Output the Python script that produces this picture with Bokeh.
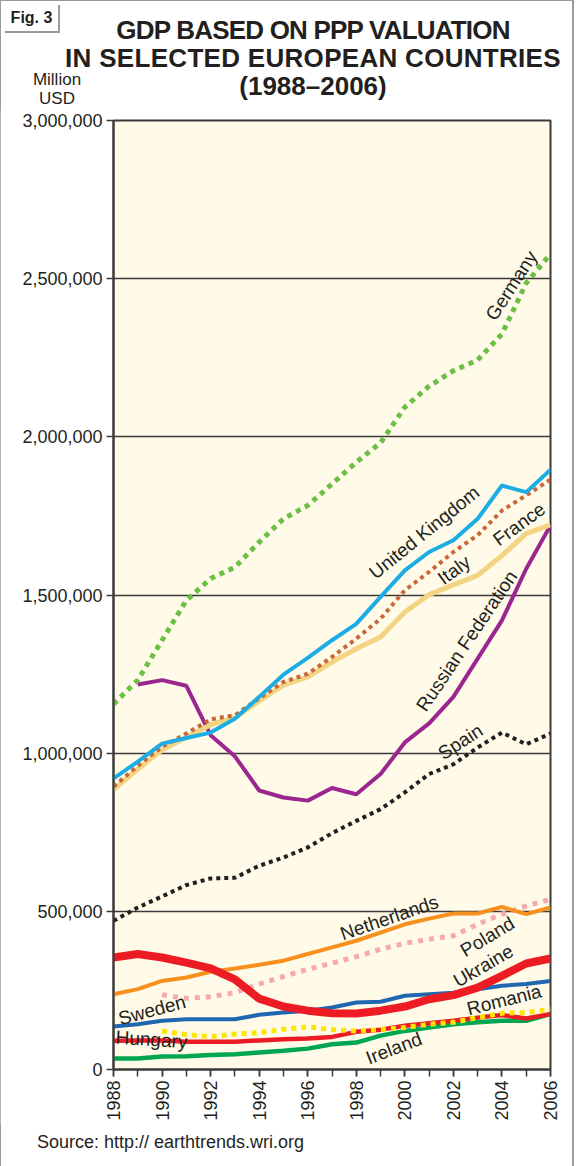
import math
from bokeh.plotting import figure
from bokeh.layouts import column
from bokeh.models import Range1d, FixedTicker, NumeralTickFormatter, Label, Div
from bokeh.embed import file_html
from bokeh.resources import INLINE

years = list(range(1988, 2007))
years_from_1989 = years[1:]
years_from_1990 = years[2:]

germany = [1155000, 1231000, 1357000, 1483000, 1552000, 1588000, 1667000, 1741000, 1783000, 1851000,
           1920000, 1981000, 2094000, 2160000, 2209000, 2243000, 2325000, 2486000, 2578000]
uk = [920000, 973000, 1030000, 1048000, 1065000, 1109000, 1178000, 1248000, 1301000, 1357000,
      1409000, 1494000, 1578000, 1636000, 1673000, 1741000, 1846000, 1825000, 1896000]
france = [894000, 960000, 1020000, 1062000, 1107000, 1120000, 1173000, 1225000, 1251000, 1304000,
          1362000, 1425000, 1515000, 1573000, 1636000, 1689000, 1767000, 1815000, 1865000]
italy = [885000, 950000, 1010000, 1050000, 1090000, 1112000, 1165000, 1215000, 1241000, 1288000,
         1330000, 1367000, 1446000, 1501000, 1532000, 1562000, 1625000, 1694000, 1722000]
russia = [1217000, 1231000, 1213000, 1057000, 990000, 882000, 860000, 850000, 890000,
          870000, 934000, 1034000, 1094000, 1178000, 1299000, 1420000, 1583000, 1720000]
spain = [470000, 512000, 547000, 583000, 604000, 606000, 644000, 670000, 702000, 747000,
         786000, 823000, 876000, 934000, 965000, 1018000, 1065000, 1028000, 1062000]
netherlands = [238000, 254000, 280000, 291000, 309000, 319000, 331000, 344000, 365000, 386000,
               407000, 433000, 459000, 477000, 493000, 493000, 514000, 491000, 512000]
poland = [236000, 225000, 230000, 243000, 270000, 294000, 317000, 336000,
          357000, 380000, 399000, 412000, 423000, 459000, 491000, 517000, 538000]
ukraine = [354000, 365000, 354000, 338000, 320000, 285000, 224000, 199000, 186000, 178000,
           177000, 186000, 199000, 222000, 235000, 259000, 296000, 335000, 351000]
sweden = [136000, 143000, 154000, 159000, 159000, 159000, 173000, 180000, 186000, 196000,
          212000, 214000, 233000, 238000, 243000, 254000, 265000, 270000, 280000]
romania = [122000, 110000, 104000, 112000, 117000, 127000, 135000, 126000,
           122000, 126000, 133000, 143000, 149000, 164000, 178000, 180000, 191000]
hungary = [91000, 92000, 92000, 88000, 88000, 88000, 92000, 96000, 98000, 103000,
           119000, 126000, 138000, 146000, 154000, 164000, 172000, 161000, 175000]
ireland = [35000, 35000, 41000, 42000, 46000, 48000, 54000, 59000, 66000, 80000,
           85000, 107000, 122000, 133000, 143000, 149000, 154000, 154000, 175000]

y_ticks = [0, 500000, 1000000, 1500000, 2000000, 2500000, 3000000]
x_label_years = list(range(1988, 2007, 2))

title_lines = ["GDP BASED ON PPP VALUATION", "IN SELECTED EUROPEAN COUNTRIES", "(1988\u20132006)"]
unit_lines = ["Million", "USD"]
fig_tag = "Fig. 3"
source_text = "Source: http:// earthtrends.wri.org"

FONT = "Liberation Sans"
CSS_FONT = "'Liberation Sans', Arial, sans-serif"
TXT = "#231f20"
W = 563
HEAD_H = 100
FOOT_H = 36
MAIN_H = 1150 - HEAD_H - FOOT_H

# ---------- header (title block) as HTML ----------
spacings = ["-0.8px", "0.3px", "0px"]
title_html = "".join(
    f'<div style="letter-spacing:{ls};">{t}</div>' for t, ls in zip(title_lines, spacings)
)
head_html = (
    f'<div style="position:relative;width:{W}px;height:{HEAD_H}px;font-family:{CSS_FONT};color:{TXT};">'
    f'<div style="position:absolute;left:0;top:0;width:55px;height:28px;box-sizing:border-box;'
    f'border:2px solid #9b9b9b;border-top:none;border-left:none;font-weight:bold;font-size:16px;'
    f'line-height:26px;text-align:center;">{fig_tag}</div>'
    f'<div style="position:absolute;left:0;right:0;top:11px;padding-left:53px;box-sizing:border-box;'
    f'text-align:center;font-weight:bold;font-size:26px;line-height:28px;white-space:nowrap;">'
    + title_html +
    '</div>'
    f'<div style="position:absolute;left:0;top:65px;width:104px;text-align:center;'
    f'font-size:17px;line-height:19px;">' + "<br>".join(unit_lines) + '</div>'
    '</div>'
)
head = Div(text=head_html, width=W, height=HEAD_H, styles={"overflow": "visible"})

# ---------- main chart ----------
p = figure(width=W, height=MAIN_H, output_backend="svg", toolbar_location=None,
           x_range=Range1d(1988, 2006), y_range=Range1d(0, 3000000),
           min_border_left=113, min_border_right=13, min_border_top=10, min_border_bottom=55)
p.background_fill_color = "#fffbe8"
p.border_fill_color = "white"
p.outline_line_color = "#3a3a3a"
p.outline_line_width = 2

p.xgrid.grid_line_color = None
p.ygrid.ticker = FixedTicker(ticks=y_ticks)
p.ygrid.grid_line_color = "#3a3a3a"
p.ygrid.grid_line_width = 1.6

p.yaxis.ticker = FixedTicker(ticks=y_ticks)
p.yaxis.formatter = NumeralTickFormatter(format="0,0")
p.xaxis.ticker = FixedTicker(ticks=x_label_years, minor_ticks=years)
p.xaxis.major_label_orientation = math.pi / 2
for ax in (p.xaxis[0], p.yaxis[0]):
    ax.axis_line_color = "#3a3a3a"
    ax.axis_line_width = 2
    ax.major_tick_line_color = "#3a3a3a"
    ax.major_tick_line_width = 1.5
    ax.minor_tick_line_color = "#3a3a3a"
    ax.minor_tick_line_width = 1.5
    ax.major_tick_in = 0
    ax.major_tick_out = 7
    ax.minor_tick_in = 0
    ax.minor_tick_out = 7
    ax.major_label_text_font = FONT
    ax.major_label_text_font_size = "18px"
    ax.major_label_text_color = TXT
    ax.major_label_standoff = 4
p.yaxis.minor_tick_line_color = None

def line(xs, ys, color, width, dash="solid"):
    p.line(xs, ys, line_color=color, line_width=width, line_dash=dash, line_cap="butt")

line(years, ireland, "#00a651", 4.5)
line(years, hungary, "#ed1c24", 4.5)
line(years_from_1990, romania, "#ffe600", 5, "5 5")
line(years, sweden, "#1f67b1", 4)
line(years_from_1990, poland, "#f6a9b1", 5, "5 6")
line(years, netherlands, "#f7901e", 4)
line(years, ukraine, "#ed1c24", 8)
line(years, spain, "#231f20", 4, "4 4")
line(years_from_1989, russia, "#9b2690", 4)
line(years, italy, "#f3d482", 5)
line(years, france, "#c9673a", 4, "4 4")
line(years, uk, "#1cade4", 4)
line(years, germany, "#6dbe45", 5, "5 5")

def label(text, x, y, angle=0, size="19px"):
    p.add_layout(Label(x=x, y=y, text=text, angle=angle, angle_units="deg",
                       text_font=FONT, text_font_size=size, text_color=TXT,
                       text_align="center", text_baseline="middle"))

label("Germany", 2004.39, 2478000, 57)
label("United Kingdom", 2000.80, 1698000, 39)
label("France", 2004.71, 1724000, 36)
label("Italy", 2002.03, 1579000, 36)
label("Russian Federation", 2002.55, 1355000, 56)
label("Spain", 2002.29, 1036000, 33)
label("Netherlands", 1999.36, 480000, 19)
label("Poland", 2003.40, 420000, 31)
label("Ukraine", 2003.23, 328000, 30)
label("Romania", 2004.09, 220000, 14)
label("Ireland", 1999.55, 67000, 21)
label("Sweden", 1989.59, 188000, 15)
label("Hungary", 1989.57, 95000, -4)

# ---------- footer (source) ----------
foot_html = (
    f'<div style="position:relative;width:{W}px;height:{FOOT_H}px;font-family:{CSS_FONT};color:{TXT};">'
    f'<div style="position:absolute;left:32px;top:4px;font-size:18px;line-height:18px;white-space:nowrap;">'
    f'{source_text}</div></div>'
)
foot = Div(text=foot_html, width=W, height=FOOT_H)

layout = column(head, p, foot, spacing=0)
layout.styles = {"outline": "2px solid #9b9b9b", "outline-offset": "-1px"}

open("out.html", "w").write(file_html(layout, INLINE))
